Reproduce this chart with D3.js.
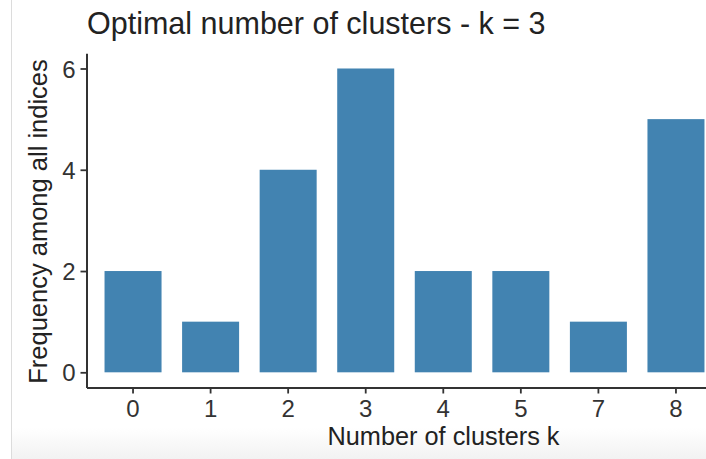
<!DOCTYPE html>
<html>
<head>
<meta charset="utf-8">
<script src="https://cdn.jsdelivr.net/npm/d3@7"></script>
<style>
  html, body { margin: 0; padding: 0; background: #fff; }
  svg { display: block; font-family: "Liberation Sans", Arial, sans-serif; }
</style>
</head>
<body>
<svg id="chart" width="706" height="459"></svg>
<script>
const categories = ["0", "1", "2", "3", "4", "5", "7", "8"];
const frequencies = [2, 1, 4, 6, 2, 2, 1, 5];
const yTicks = [0, 2, 4, 6];
const titleText = "Optimal number of clusters - k = 3";
const xTitle = "Number of clusters k";
const yTitle = "Frequency among all indices";

const svg = d3.select("#chart");

// page-frame artefacts of the screenshot
const defs = svg.append("defs");
const grad = defs.append("linearGradient").attr("id", "btm").attr("x1", 0).attr("x2", 0).attr("y1", 0).attr("y2", 1);
grad.append("stop").attr("offset", "0%").attr("stop-color", "#ffffff");
grad.append("stop").attr("offset", "100%").attr("stop-color", "#f2f2f2");
svg.append("rect").attr("x", 11).attr("y", 428).attr("width", 695).attr("height", 31).attr("fill", "url(#btm)");
svg.append("line").attr("x1", 11.5).attr("x2", 11.5).attr("y1", 0).attr("y2", 459)
  .attr("stroke", "#dcdcdc").attr("stroke-width", 1);

const pLeft = 86.5, pRight = 722.5, pTop = 53.3, pBottom = 387.5;

const x = d3.scaleBand().domain(categories).range([pLeft, pRight])
  .paddingInner(0.265).paddingOuter(0.2325);
const y = d3.scaleLinear().domain([-0.3, 6.3]).range([pBottom, pTop]);

const data = categories.map((c, i) => ({ c, v: frequencies[i] }));

svg.append("g").selectAll("rect").data(data).join("rect")
  .attr("x", d => x(d.c))
  .attr("width", x.bandwidth())
  .attr("y", d => y(d.v))
  .attr("height", d => y(0) - y(d.v))
  .attr("fill", "#4283b1");

// axes
const xAxis = svg.append("g").attr("transform", `translate(0,${pBottom})`)
  .call(d3.axisBottom(x).tickSize(6).tickSizeOuter(0).tickPadding(5));
const yAxis = svg.append("g").attr("transform", `translate(${pLeft},0)`)
  .call(d3.axisLeft(y).tickValues(yTicks).tickFormat(d3.format("d"))
    .tickSize(6).tickSizeOuter(0).tickPadding(5));

[xAxis, yAxis].forEach(g => {
  g.select(".domain").attr("stroke", "#333").attr("stroke-width", 2);
  g.selectAll(".tick line").attr("stroke", "#333").attr("stroke-width", 1.8);
  g.selectAll(".tick text").attr("fill", "#333").style("font-size", "24px")
    .style("font-family", "'Liberation Sans', Arial, sans-serif");
});
xAxis.selectAll(".tick text").attr("dy", "0.76em");
yAxis.selectAll(".tick text").attr("dy", "0.36em");

// titles
svg.append("text").attr("x", 87).attr("y", 33.5)
  .attr("fill", "#222").style("font-size", "30.5px").text(titleText);

svg.append("text").attr("x", 443.5).attr("y", 445).attr("text-anchor", "middle")
  .attr("fill", "#222").style("font-size", "25.3px").text(xTitle);

svg.append("text").attr("transform", `translate(47,221.5) rotate(-90)`)
  .attr("text-anchor", "middle").attr("fill", "#222").style("font-size", "25.5px").text(yTitle);
</script>
</body>
</html>
